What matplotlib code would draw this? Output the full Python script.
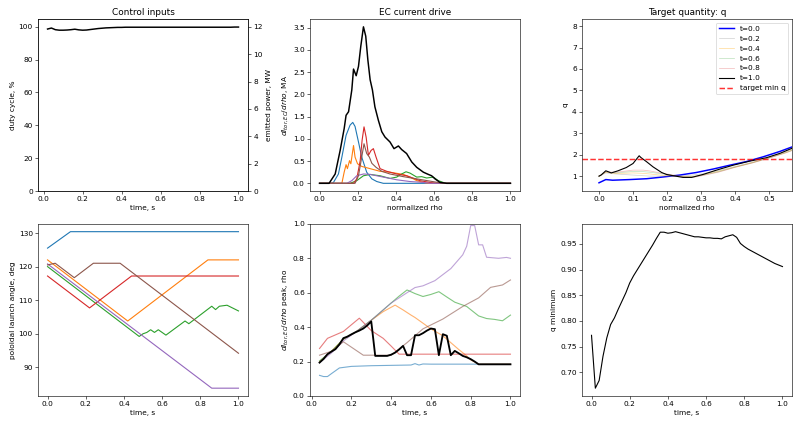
import numpy as np
import matplotlib
matplotlib.use("Agg")
from matplotlib import pyplot as plt

# --- control inputs (duty cycle vs time) ---
t_duty = [0.02, 0.04, 0.06, 0.08, 0.10, 0.12, 0.14, 0.16, 0.18, 0.20,
          0.22, 0.24, 0.26, 0.28, 0.30, 0.32, 0.34, 0.36, 0.38, 0.40,
          0.42, 0.44, 0.46, 0.48, 0.50, 0.52, 0.54, 0.56, 0.58, 0.60,
          0.62, 0.64, 0.66, 0.68, 0.70, 0.72, 0.74, 0.76, 0.78, 0.80,
          0.82, 0.84, 0.86, 0.88, 0.90, 0.92, 0.94, 0.96, 0.98, 1.00]
duty = [98.6, 99.2, 98.2, 97.9, 97.9, 98.0, 98.2, 98.5, 98.1, 97.9,
        98.0, 98.3, 98.6, 98.9, 99.1, 99.3, 99.4, 99.5, 99.6, 99.6,
        99.7, 99.7, 99.7, 99.7, 99.7, 99.7, 99.7, 99.7, 99.7, 99.7,
        99.7, 99.7, 99.7, 99.7, 99.7, 99.7, 99.7, 99.7, 99.7, 99.7,
        99.7, 99.7, 99.7, 99.7, 99.7, 99.7, 99.7, 99.7, 99.8, 99.8]

# --- EC current drive profiles (rho, dI/drho) ---
cd_blue_r = [0.0, 0.06, 0.073, 0.099, 0.117, 0.139, 0.16, 0.174, 0.186, 0.204, 0.221, 0.247, 0.274, 0.30, 0.334, 1.0]
cd_blue_v = [0.0, 0.0, 0.02, 0.21, 0.59, 1.08, 1.31, 1.37, 1.28, 0.93, 0.59, 0.25, 0.10, 0.04, 0.0, 0.0]
cd_orange_r = [0.0, 0.117, 0.129, 0.139, 0.146, 0.157, 0.164, 0.178, 0.186, 0.199, 0.221, 0.265, 0.317, 0.369, 0.439, 0.474, 0.509, 0.544, 0.57, 1.0]
cd_orange_v = [0.0, 0.0, 0.25, 0.42, 0.33, 0.51, 0.44, 0.85, 0.59, 0.44, 0.38, 0.33, 0.27, 0.25, 0.20, 0.14, 0.06, 0.02, 0.0, 0.0]
cd_green_r = [0.0, 0.16, 0.195, 0.23, 0.265, 0.317, 0.369, 0.404, 0.43, 0.453, 0.474, 0.509, 0.535, 0.561, 0.596, 0.622, 0.648, 0.666, 1.0]
cd_green_v = [0.0, 0.0, 0.06, 0.17, 0.20, 0.17, 0.11, 0.14, 0.21, 0.26, 0.23, 0.14, 0.15, 0.12, 0.14, 0.06, 0.02, 0.0, 0.0]
cd_red_r = [0.0, 0.178, 0.195, 0.213, 0.223, 0.233, 0.244, 0.256, 0.27, 0.282, 0.296, 0.317, 0.352, 0.404, 0.456, 0.526, 0.578, 0.613, 1.0]
cd_red_v = [0.0, 0.0, 0.10, 0.51, 0.97, 1.27, 1.04, 0.63, 0.74, 0.78, 0.59, 0.33, 0.27, 0.21, 0.17, 0.06, 0.02, 0.0, 0.0]
cd_purple_r = [0.0, 0.143, 0.169, 0.195, 0.23, 0.265, 0.334, 0.404, 0.474, 0.544, 0.578, 1.0]
cd_purple_v = [0.0, 0.0, 0.06, 0.17, 0.21, 0.20, 0.14, 0.08, 0.04, 0.02, 0.0, 0.0]
cd_brown_r = [0.0, 0.186, 0.204, 0.221, 0.233, 0.247, 0.261, 0.274, 0.296, 0.326, 0.369, 0.439, 0.509, 0.578, 0.648, 1.0]
cd_brown_v = [0.0, 0.0, 0.17, 0.59, 0.89, 0.67, 0.59, 0.45, 0.36, 0.27, 0.21, 0.15, 0.10, 0.05, 0.0, 0.0]
cd_total_r = [0.0, 0.05, 0.082, 0.108, 0.129, 0.139, 0.152, 0.169, 0.178, 0.192, 0.204, 0.216, 0.23, 0.242,
              0.253, 0.265, 0.277, 0.29, 0.308, 0.326, 0.343, 0.369, 0.39, 0.413, 0.43, 0.456, 0.483,
              0.509, 0.544, 0.57, 0.587, 0.605, 0.631, 0.666, 1.0]
cd_total_v = [0.0, 0.0, 0.21, 0.74, 1.23, 1.53, 1.61, 2.10, 2.57, 2.42, 2.63, 3.08, 3.52, 3.31,
              2.78, 2.33, 2.10, 1.72, 1.42, 1.16, 1.04, 0.93, 0.78, 0.84, 0.76, 0.67, 0.48,
              0.36, 0.25, 0.20, 0.17, 0.10, 0.02, 0.0, 0.0]

# --- q profiles ---
q_rho_t00 = [0.0, 0.02, 0.04, 0.09, 0.14, 0.188, 0.237, 0.286, 0.335, 0.384, 0.433, 0.482, 0.531, 0.57, 0.6]
q_t00 = [0.69, 0.84, 0.81, 0.84, 0.88, 0.96, 1.05, 1.17, 1.33, 1.51, 1.68, 1.90, 2.15, 2.38, 2.55]
q_rho_mid = [0.0, 0.02, 0.05, 0.10, 0.13, 0.15, 0.18, 0.20, 0.22, 0.25, 0.28, 0.30, 0.35, 0.40, 0.45, 0.50, 0.55, 0.6]
q_t02 = [0.98, 1.15, 1.10, 1.05, 1.02, 1.00, 1.00, 1.00, 1.01, 1.02, 1.06, 1.10, 1.25, 1.45, 1.65, 1.88, 2.15, 2.45]
q_t04 = [1.00, 1.18, 1.12, 1.15, 1.13, 1.10, 1.05, 1.02, 1.00, 0.98, 1.00, 1.05, 1.22, 1.43, 1.63, 1.86, 2.12, 2.42]
q_t06 = [1.00, 1.20, 1.15, 1.22, 1.21, 1.18, 1.12, 1.08, 1.02, 0.97, 0.98, 1.03, 1.20, 1.42, 1.62, 1.85, 2.10, 2.40]
q_t08 = [1.00, 1.20, 1.18, 1.28, 1.28, 1.24, 1.15, 1.10, 1.05, 0.97, 0.95, 1.01, 1.18, 1.41, 1.61, 1.84, 2.09, 2.38]
q_rho_t10 = [0.0, 0.006, 0.02, 0.036, 0.056, 0.08, 0.10, 0.118, 0.123, 0.14, 0.159, 0.184, 0.198, 0.218,
             0.247, 0.272, 0.306, 0.345, 0.394, 0.443, 0.492, 0.531, 0.567, 0.6]
q_t10 = [1.00, 1.05, 1.25, 1.15, 1.25, 1.40, 1.59, 1.95, 1.87, 1.67, 1.43, 1.17, 1.08, 1.02,
         0.94, 0.94, 1.08, 1.28, 1.51, 1.70, 1.86, 2.06, 2.30, 2.50]
q_target = 1.8

# --- poloidal launch angles (knots in time) ---
ang_t = [
    [0.0, 0.12, 1.0],
    [0.0, 0.42, 0.84, 1.0],
    [0.0, 0.48, 0.50, 0.52, 0.54, 0.56, 0.58, 0.62, 0.72, 0.74, 0.86, 0.88, 0.90, 0.94, 1.0],
    [0.0, 0.22, 0.44, 1.0],
    [0.0, 0.86, 1.0],
    [0.0, 0.04, 0.14, 0.24, 0.38, 1.0],
]
ang_v = [
    [125.5, 130.4, 130.4],
    [122.0, 103.8, 122.0, 122.0],
    [120.0, 99.2, 100.0, 100.4, 101.2, 100.4, 101.2, 99.6, 103.8, 103.0, 108.2, 107.2, 108.2, 108.5, 106.8],
    [117.2, 107.7, 117.2, 117.2],
    [120.8, 83.8, 83.8],
    [120.5, 121.0, 116.7, 121.0, 121.0, 94.2],
]

# --- dI/drho peak location vs time ---
pk_blue_t = [0.04, 0.06, 0.08, 0.10, 0.14, 0.20, 0.30, 0.40, 0.50, 0.52, 0.54, 0.56, 0.60, 1.0]
pk_blue = [0.12, 0.113, 0.113, 0.13, 0.163, 0.172, 0.176, 0.178, 0.18, 0.188, 0.18, 0.186, 0.185, 0.185]
pk_orange_t = [0.04, 0.10, 0.16, 0.22, 0.30, 0.36, 0.42, 0.46, 0.50, 0.52, 0.60, 0.66, 0.70, 0.74, 0.78, 0.80, 0.84, 1.0]
pk_orange = [0.20, 0.26, 0.33, 0.37, 0.44, 0.49, 0.528, 0.50, 0.47, 0.456, 0.39, 0.35, 0.31, 0.27, 0.233, 0.21, 0.185, 0.185]
pk_green_t = [0.04, 0.10, 0.16, 0.22, 0.30, 0.38, 0.44, 0.48, 0.52, 0.56, 0.60, 0.64, 0.68, 0.72, 0.78, 0.84, 0.88, 0.92, 0.96, 1.0]
pk_green = [0.204, 0.26, 0.33, 0.37, 0.44, 0.52, 0.58, 0.616, 0.595, 0.578, 0.59, 0.606, 0.575, 0.545, 0.52, 0.465, 0.45, 0.445, 0.437, 0.47]
pk_red_t = [0.04, 0.08, 0.16, 0.24, 0.30, 0.36, 0.40, 0.44, 1.0]
pk_red = [0.276, 0.335, 0.375, 0.452, 0.38, 0.335, 0.29, 0.243, 0.243]
pk_purple_t = [0.04, 0.10, 0.16, 0.22, 0.30, 0.40, 0.48, 0.52, 0.56, 0.62, 0.70, 0.76, 0.78, 0.80, 0.82, 0.84, 0.86, 0.88, 0.94, 0.98, 1.0]
pk_purple = [0.194, 0.25, 0.32, 0.37, 0.44, 0.54, 0.60, 0.63, 0.64, 0.67, 0.74, 0.82, 0.87, 0.99, 0.99, 0.878, 0.878, 0.806, 0.80, 0.805, 0.80]
pk_brown_t = [0.04, 0.10, 0.16, 0.26, 0.40, 0.48, 0.56, 0.66, 0.76, 0.84, 0.90, 0.96, 1.0]
pk_brown = [0.237, 0.26, 0.315, 0.237, 0.237, 0.31, 0.39, 0.447, 0.52, 0.57, 0.631, 0.645, 0.674]
pk_total_t = [0.04, 0.06, 0.08, 0.10, 0.12, 0.14, 0.16, 0.18, 0.20, 0.22, 0.24, 0.26, 0.28, 0.30,
              0.32, 0.34, 0.36, 0.38, 0.40, 0.42, 0.44, 0.46, 0.48, 0.50, 0.52, 0.54, 0.56, 0.58,
              0.60, 0.62, 0.64, 0.66, 0.68, 0.70, 0.72, 0.74, 0.76, 0.78, 0.80, 0.82, 0.84, 1.0]
pk_total = [0.194, 0.215, 0.243, 0.258, 0.272, 0.30, 0.336, 0.345, 0.358, 0.37, 0.38, 0.392, 0.41, 0.433,
            0.233, 0.233, 0.233, 0.233, 0.24, 0.252, 0.27, 0.291, 0.237, 0.237, 0.353, 0.353, 0.365, 0.38,
            0.392, 0.388, 0.237, 0.359, 0.35, 0.237, 0.262, 0.248, 0.233, 0.225, 0.214, 0.20, 0.184, 0.184]

# --- q minimum vs time ---
t_qmin = [0.0, 0.02, 0.04, 0.06, 0.08, 0.10, 0.12, 0.14, 0.16, 0.18, 0.20, 0.22, 0.24, 0.26, 0.28,
          0.30, 0.32, 0.34, 0.36, 0.38, 0.40, 0.42, 0.44, 0.46, 0.48, 0.50, 0.52, 0.54, 0.56, 0.58,
          0.60, 0.62, 0.64, 0.66, 0.68, 0.70, 0.72, 0.74, 0.76, 0.78, 0.80, 0.82, 0.84, 0.86, 0.88,
          0.90, 0.92, 0.94, 0.96, 0.98, 1.00]
qmin = [0.772, 0.669, 0.684, 0.731, 0.767, 0.793, 0.806, 0.823, 0.839, 0.855, 0.874, 0.888, 0.900, 0.912, 0.924,
        0.936, 0.948, 0.961, 0.973, 0.973, 0.971, 0.972, 0.974, 0.972, 0.970, 0.968, 0.966, 0.964, 0.964, 0.963,
        0.962, 0.962, 0.961, 0.961, 0.960, 0.964, 0.966, 0.968, 0.963, 0.951, 0.945, 0.940, 0.936, 0.932, 0.928,
        0.924, 0.920, 0.916, 0.912, 0.909, 0.906]

DPI = 800 / 15
fig, axs = plt.subplots(2, 3, figsize=(15, 427 / DPI), dpi=DPI)
fig.subplots_adjust(left=0.0475, right=0.99, bottom=0.0726, top=0.9555, wspace=0.295, hspace=0.19)

# Control inputs
ax = axs[0, 0]
ax.plot(t_duty, duty, color="black", lw=2)
ax.set_ylim(0, 104.7)
ax.set_xlabel("time, s")
ax.set_ylabel("duty cycle, %")
ax.set_title("Control inputs")
ax2 = ax.twinx()
ax2.set_ylim(0, 104.7 * 0.12)
ax2.set_ylabel("emitted power, MW")

# EC current drive
ax = axs[0, 1]
ax.plot(cd_blue_r, cd_blue_v, color="C0")
ax.plot(cd_orange_r, cd_orange_v, color="C1")
ax.plot(cd_green_r, cd_green_v, color="C2")
ax.plot(cd_red_r, cd_red_v, color="C3")
ax.plot(cd_purple_r, cd_purple_v, color="C4")
ax.plot(cd_brown_r, cd_brown_v, color="C5")
ax.plot(cd_total_r, cd_total_v, color="black", lw=2)
ax.set_xlabel("normalized rho")
ax.set_ylabel(r"$dI_{tor,EC}/drho$, MA")
ax.set_title("EC current drive")

# Target quantity q
ax = axs[0, 2]
ax.plot(q_rho_t00, q_t00, color="blue", lw=2, label="t=0.0")
ax.plot(q_rho_mid, q_t02, color="gray", alpha=0.35, lw=1, label="t=0.2")
ax.plot(q_rho_mid, q_t04, color="orange", alpha=0.4, lw=1, label="t=0.4")
ax.plot(q_rho_mid, q_t06, color="C2", alpha=0.3, lw=1, label="t=0.6")
ax.plot(q_rho_mid, q_t08, color="C3", alpha=0.3, lw=1, label="t=0.8")
ax.plot(q_rho_t10, q_t10, color="black", lw=1.5, label="t=1.0")
ax.axhline(q_target, color="red", ls="--", lw=2, alpha=0.8, label="target min q")
ax.set_xlim(-0.05, 0.567)
ax.set_ylim(0.3, 8.33)
ax.set_xlabel("normalized rho")
ax.set_ylabel("q")
ax.set_title("Target quantity: q")
ax.legend(loc="upper right")

# Poloidal launch angles
ax = axs[1, 0]
for i in range(len(ang_t)):
    ax.plot(ang_t[i], ang_v[i], color="C%d" % i)
ax.set_xlabel("time, s")
ax.set_ylabel("poloidal launch angle, deg")

# Peak location of current drive
ax = axs[1, 1]
ax.plot(pk_blue_t, pk_blue, color="C0", alpha=0.6)
ax.plot(pk_orange_t, pk_orange, color="C1", alpha=0.6)
ax.plot(pk_green_t, pk_green, color="C2", alpha=0.6)
ax.plot(pk_red_t, pk_red, color="C3", alpha=0.6)
ax.plot(pk_purple_t, pk_purple, color="C4", alpha=0.6)
ax.plot(pk_brown_t, pk_brown, color="C5", alpha=0.6)
ax.plot(pk_total_t, pk_total, color="black", lw=2.5)
ax.set_ylim(0, 1.0)
ax.set_xlabel("time, s")
ax.set_ylabel(r"$dI_{tor,EC}/drho$ peak, rho")

# q minimum
ax = axs[1, 2]
ax.plot(t_qmin, qmin, color="black", lw=1.5)
ax.set_xlabel("time, s")
ax.set_ylabel("q minimum")

fig.savefig("out.png", dpi=DPI)
